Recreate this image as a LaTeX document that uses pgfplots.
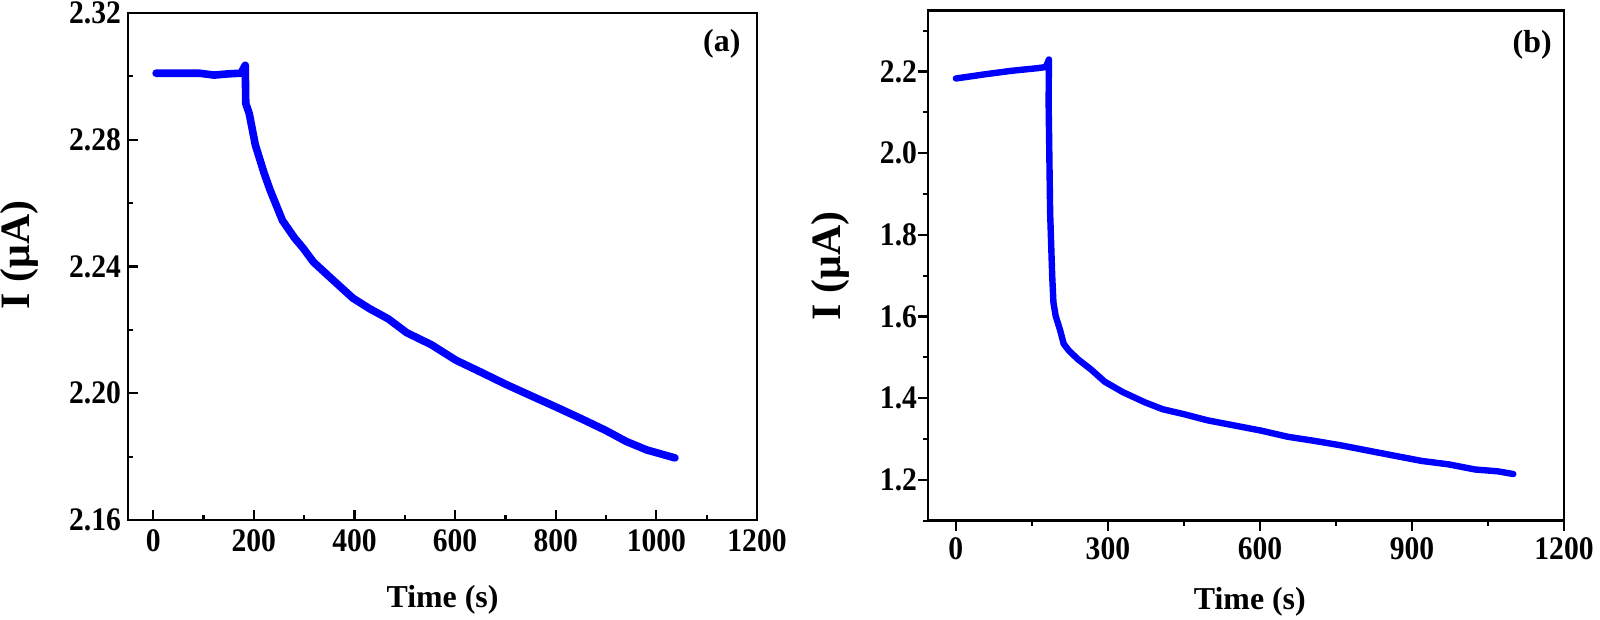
\documentclass[border=0pt]{standalone}
\usepackage{pgfplots}
\pgfplotsset{compat=1.18}
\usepackage{fontspec}
\setmainfont{Liberation Serif}
\newfontfamily\tickfont{Liberation Serif}[FakeStretch=0.9]

\definecolor{curve}{RGB}{0,0,255}

\pgfplotsset{
  panel/.style={
    scale only axis,
    axis line style={line width=1.3bp},
    every tick/.style={black, line width=1.1bp},
    major tick length=5bp,
    minor tick length=2.5bp,
    xtick pos=bottom, ytick pos=left,
    tick label style={font=\tickfont\fontsize{16.5}{18}\selectfont\bfseries},
    x label style={at={(axis description cs:0.5,-0.158)}, anchor=center, font=\fontsize{16}{18}\selectfont\bfseries},
    y label style={anchor=center, rotate=0, font=\fontsize{21}{24}\selectfont\bfseries},
    clip=false,
  },
}

\begin{document}
\begin{tikzpicture}
\useasboundingbox (0,0) rectangle (800bp,310bp);

% (a)
\begin{axis}[panel,
  at={(64bp,50bp)}, anchor=south west,
  width=314.5bp, height=253.5bp,
  tick align=inside,
  xmin=-50, xmax=1200, ymin=2.16, ymax=2.32,
  xtick={0,200,400,600,800,1000,1200},
  xticklabels={0,200,400,600,800,1000,1200},
  xticklabel style={yshift=-1.5bp},
  minor xtick={100,300,...,1100},
  ytick={2.16,2.20,2.24,2.28,2.32},
  yticklabels={2.16,2.20,2.24,2.28,2.32},
  minor ytick={2.18,2.22,2.26,2.30},
  xlabel={Time (s)},
  ylabel={I (μA)},
  y label style={at={(axis description cs:-0.172,0.523)}},
]
\addplot[curve, line width=3.8bp, line join=round, line cap=round] coordinates {
  (5.8,2.3010) (50,2.3010) (92,2.3010) (121,2.3004) (150,2.3008) (174.5,2.3010)
  (183,2.3035) (184,2.2915) (191,2.2882) (203,2.2784) (220,2.2697) (232,2.2643)
  (257,2.2545) (281,2.2490) (298,2.2458) (318.5,2.2414) (355.5,2.2360) (397,2.2300)
  (430,2.2267) (467,2.2235) (504,2.2191) (553,2.2153) (602,2.2104) (652,2.2066)
  (701,2.2028) (751,2.1992) (800,2.1957) (849,2.1921) (899,2.1883) (940,2.1848)
  (981,2.1821) (1037,2.1796)
};
\node[font=\fontsize{16}{18}\selectfont\bfseries] at (axis description cs:0.944,0.939) {(a)};
\end{axis}

% (b)
\begin{axis}[panel,
  at={(464bp,49.65bp)}, anchor=south west,
  width=318bp, height=255.2bp,
  tick align=outside,
  xmin=-55, xmax=1200, ymin=1.1, ymax=2.35,
  xtick={0,300,600,900,1200},
  xticklabels={0,300,600,900,1200},
  minor xtick={150,450,750,1050},
  ytick={1.2,1.4,1.6,1.8,2.0,2.2},
  yticklabels={1.2,1.4,1.6,1.8,2.0,2.2},
  yticklabel style={xshift=3bp},
  minor ytick={1.1,1.3,1.5,1.7,1.9,2.1,2.3},
  xlabel={Time (s)},
  x label style={at={(axis description cs:0.506,-0.158)}},
  ylabel={I (μA)},
  y label style={at={(axis description cs:-0.154,0.499)}},
]
\addplot[curve, line width=3.2bp, line join=round, line cap=round] coordinates {
  (0,2.183) (56,2.193) (109,2.2017) (162,2.2084) (177.5,2.211) (183.6,2.2295)
  (183,2.124) (184.5,1.989) (186,1.854) (190,1.702) (192.5,1.6346) (197,1.601)
  (205.6,1.567) (212.7,1.5333) (223,1.5165) (240.8,1.4954) (267,1.470) (293.6,1.4405)
  (329,1.4152) (373,1.3899) (408,1.373) (452,1.3603) (496,1.346) (549,1.3333)
  (602,1.3207) (655,1.3055) (708,1.2954) (760.5,1.2844) (813,1.2717) (866,1.259)
  (919,1.2464) (972,1.238) (1025,1.2253) (1069,1.221) (1100,1.2143)
};
\node[font=\fontsize{16}{18}\selectfont\bfseries] at (axis description cs:0.950,0.932) {(b)};
\end{axis}
\end{tikzpicture}
\end{document}
